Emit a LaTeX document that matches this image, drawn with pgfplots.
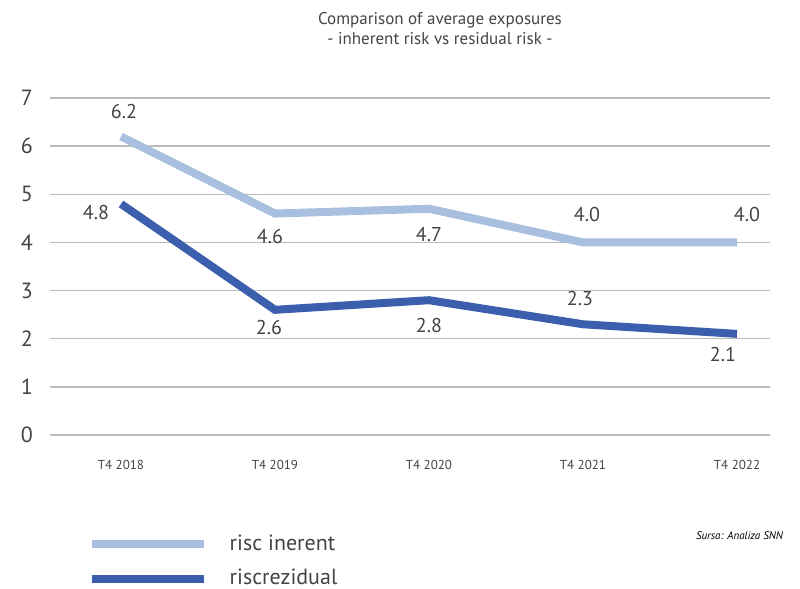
\documentclass[border=0pt]{standalone}
\usepackage{pgfplots}
\pgfplotsset{compat=1.18}
\usepackage{fontspec}
\setmainfont{PT Sans}
\definecolor{lightb}{HTML}{A8BFE0}
\definecolor{darkb}{HTML}{3C5FAD}
\definecolor{txt}{HTML}{444444}
\definecolor{gridc}{HTML}{BBBBBB}
\begin{document}
\begin{tikzpicture}
\path[use as bounding box] (0,0) rectangle (400pt,294.5pt);
\begin{axis}[at={(25pt,77pt)}, anchor=south west, scale only axis,
  width=360pt, height=168.5pt,
  xmin=-0.461, xmax=4.214, ymin=0, ymax=7,
  axis line style={draw=none}, major tick length=0pt,
  ymajorgrids, grid style={gridc, line width=0.7pt},
  xtick={0,1,2,3,4}, xticklabels={T4 2018,T4 2019,T4 2020,T4 2021,T4 2022},
  ytick={0,1,...,7},
  /pgf/number format/assume math mode=true,
  tick label style={text=txt},
  yticklabel style={font=\fontsize{11}{12}\selectfont, xshift=-5pt},
  xticklabel style={font=\fontsize{6.5}{7}\selectfont, yshift=-9pt},
  clip=false,
  legend style={at={(0.049,-0.277)}, anchor=north west, draw=none, fill=none,
    font=\fontsize{11}{12}\selectfont, text=txt, row sep=4pt,
    legend cell align=left, inner sep=1pt},
  legend image code/.code={\draw[#1] (0pt,0pt) -- (56pt,0pt);},
]
\addplot[lightb, line width=4pt] coordinates {(0,6.2)(1,4.6)(2,4.7)(3,4.0)(4,4.0)};
\addlegendentry{\hspace{9pt}risc inerent}
\addplot[darkb, line width=4pt] coordinates {(0,4.8)(1,2.6)(2,2.8)(3,2.3)(4,2.1)};
\addlegendentry{\hspace{9pt}riscrezidual}
\begin{scope}[every node/.style={font=\fontsize{10}{11}\selectfont, text=txt}]
\node[xshift=1.5pt, yshift=12.5pt] at (axis cs:0,6.2) {6.2};
\node[xshift=-2.5pt, yshift=-11.5pt] at (axis cs:1,4.6) {4.6};
\node[yshift=-13pt] at (axis cs:2,4.7) {4.7};
\node[xshift=2pt, yshift=14pt] at (axis cs:3,4.0) {4.0};
\node[xshift=5pt, yshift=14pt] at (axis cs:4,4.0) {4.0};
\node[xshift=-12.5pt, yshift=-4.5pt] at (axis cs:0,4.8) {4.8};
\node[xshift=-3pt, yshift=-9pt] at (axis cs:1,2.6) {2.6};
\node[yshift=-12.5pt] at (axis cs:2,2.8) {2.8};
\node[xshift=-1.5pt, yshift=13pt] at (axis cs:3,2.3) {2.3};
\node[xshift=-7pt, yshift=-10.5pt] at (axis cs:4,2.1) {2.1};
\end{scope}
\end{axis}
\node[text=txt, font=\fontsize{8.5}{10}\selectfont, align=center] at (220pt,280pt)
  {Comparison of average exposures\\- inherent risk vs residual risk -};
\node[text=black, anchor=east, font=\itshape\fontsize{5.5}{6}\selectfont] at (395pt,26.5pt) {Sursa: Analiza SNN};
\end{tikzpicture}
\end{document}
